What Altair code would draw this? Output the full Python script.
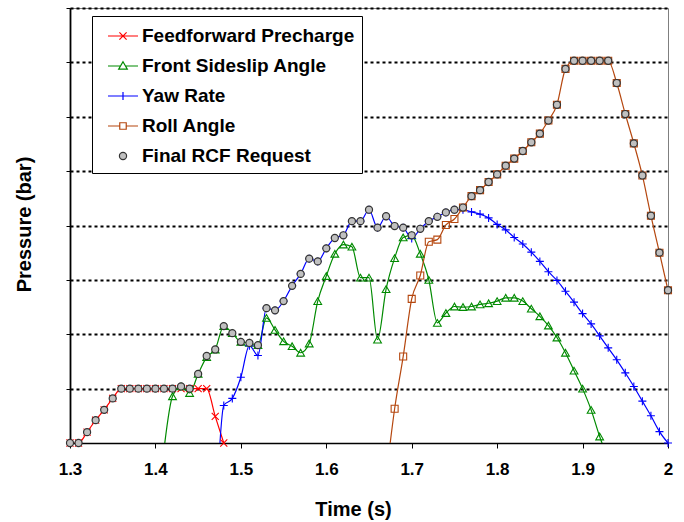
import altair as alt
import pandas as pd

SERIES = ["Feedforward Precharge", "Front Sideslip Angle", "Yaw Rate", "Roll Angle", "Final RCF Request"]
COLORS = ["#ff0000", "#008a00", "#0000ff", "#b5470f", "#333333"]
FILLS = ["transparent", "transparent", "transparent", "transparent", "#c0c0c0"]

X_TICKS = [1.3, 1.4, 1.5, 1.6, 1.7, 1.8, 1.9, 2.0]
Y_GRID = [1, 2, 3, 4, 5, 6, 7, 8]
STEP = 0.01

feedforward_start = 1.30
feedforward = [0.0, 0.0, 0.2, 0.42, 0.61, 0.82, 1.0, 1.0, 1.0, 1.0, 1.0, 1.0, 1.0, 1.0, 1.0,
               1.0, 1.0, 0.49, 0.0]

sideslip_start = 1.41
sideslip = [-0.12, 0.86, 1.04, 0.92, 1.27, 1.58, 1.72, 2.15, 2.02, 1.86, 1.84, 1.80, 2.30, 2.08,
            1.87, 1.78, 1.66, 1.83, 2.61, 3.07, 3.48, 3.65, 3.61, 3.04, 3.04, 1.90, 2.83, 3.40,
            3.78, 3.82, 3.48, 3.00, 2.21, 2.39, 2.51, 2.50, 2.51, 2.55, 2.57, 2.61, 2.67, 2.67,
            2.61, 2.47, 2.33, 2.16, 1.94, 1.66, 1.33, 1.00, 0.61, 0.12, -0.30]

yaw_start = 1.47
yaw = [-1.6, 0.69, 0.82, 1.21, 1.79, 1.61, 2.48, 2.44, 2.61, 2.89, 3.11, 3.39, 3.34, 3.58, 3.77,
       3.82, 4.08, 4.08, 4.29, 3.96, 4.17, 3.99, 3.96, 3.76, 3.94, 4.08, 4.16, 4.24, 4.29, 4.29,
       4.25, 4.21, 4.14, 4.02, 3.92, 3.78, 3.66, 3.51, 3.34, 3.15, 2.99, 2.79, 2.59, 2.38, 2.19,
       1.97, 1.75, 1.53, 1.29, 1.04, 0.77, 0.50, 0.21, 0.0]

roll_start = 1.67
roll = [-0.63, 0.63, 1.59, 2.65, 3.08, 3.70, 3.74, 4.01, 4.12, 4.33, 4.54, 4.65, 4.80, 4.94, 5.10,
        5.23, 5.37, 5.53, 5.69, 5.93, 6.22, 6.88, 7.03, 7.03, 7.03, 7.03, 7.03, 6.62, 6.05, 5.51,
        4.92, 4.18, 3.50, 2.81]

final_start = 1.30
final = [0.0, 0.0, 0.2, 0.42, 0.61, 0.82, 1.0, 1.0, 1.0, 1.0, 1.0, 1.0, 1.0, 1.04, 1.0, 1.27,
         1.6, 1.72, 2.15, 2.02, 1.86, 1.84, 1.80, 2.48, 2.44, 2.61, 2.89, 3.11, 3.39, 3.34, 3.58,
         3.77, 3.82, 4.08, 4.08, 4.29, 3.96, 4.17, 3.99, 3.96, 3.82, 3.94, 4.08, 4.16, 4.24, 4.29,
         4.33, 4.54, 4.65, 4.80, 4.94, 5.10, 5.23, 5.37, 5.53, 5.69, 5.93, 6.22, 6.88, 7.03, 7.03,
         7.03, 7.03, 7.03, 6.62, 6.05, 5.51, 4.92, 4.18, 3.50, 2.81]

rows = []
for name, start, vals in [(SERIES[0], feedforward_start, feedforward),
                          (SERIES[1], sideslip_start, sideslip),
                          (SERIES[2], yaw_start, yaw),
                          (SERIES[3], roll_start, roll),
                          (SERIES[4], final_start, final)]:
    for i, v in enumerate(vals):
        rows.append({"t": round(start + i * STEP, 2), "v": v, "series": name})
df = pd.DataFrame(rows)

# data-point marker shapes
MARK_SHAPES = ["M-1,-1L1,1M-1,1L1,-1", "triangle-up", "M-1,0H1M0,-1V1", "square", "circle"]
MARK_SIZES = [50, 60, 64, 49, 50]
# legend symbols: line through marker
LEG_PATHS = [
    "M-1.25,0H1.25M-0.3,-0.3L0.3,0.3M-0.3,0.3L0.3,-0.3",
    "M-1.25,0H-0.22M0.22,0H1.25M0,-0.36L0.36,0.26H-0.36Z",
    "M-1.25,0H1.25M0,-0.33V0.33",
    "M-1.25,0H-0.27M0.27,0H1.25M-0.27,-0.27H0.27V0.27H-0.27Z",
    "M0.3,0A0.3,0.3 0 1,1 -0.3,0A0.3,0.3 0 1,1 0.3,0Z",
]

FONT = "Liberation Sans"

x_enc = alt.X("t:Q", scale=alt.Scale(domain=[1.3, 2.0], nice=False, zero=False),
              axis=alt.Axis(values=X_TICKS, format=".1~f", title="Time (s)", grid=False,
                            domainColor="black", domainWidth=1.5, tickColor="black", tickSize=5,
                            tickWidth=1, labelFont=FONT, labelFontSize=17, labelFontWeight="bold",
                            labelColor="black", labelPadding=13, labelFlush=False,
                            titleFont=FONT, titleFontSize=20, titleFontWeight="bold",
                            titleColor="black", titleX=283, titleY=66, titleBaseline="middle",
                            titleAlign="center"))
y_enc = alt.Y("v:Q", scale=alt.Scale(domain=[0, 8], nice=False),
              axis=alt.Axis(values=Y_GRID, labels=False, title="Pressure (bar)", grid=True,
                            gridColor="black", gridDash=[3, 3], gridWidth=2, gridOpacity=1,
                            domainColor="black", domainWidth=1.8, tickColor="black", tickSize=4,
                            tickWidth=1, titleFont=FONT, titleFontSize=20, titleFontWeight="bold",
                            titleColor="black", titleX=-46, titleY=216, titleBaseline="middle",
                            titleAlign="center"))

base = alt.Chart(df)

lines = base.transform_filter(
    alt.datum.series != SERIES[4]
).mark_line(strokeWidth=1.2, interpolate="monotone", clip=True).encode(
    x=x_enc, y=y_enc,
    color=alt.Color("series:N", scale=alt.Scale(domain=SERIES[:4], range=COLORS[:4]), legend=None),
    detail="series:N",
)

layers = [lines]
for i, name in enumerate(SERIES):
    sel = base.transform_filter((alt.datum.series == name) & (alt.datum.v >= 0))
    if i == 4:
        layers.append(sel.mark_point(
            shape=MARK_SHAPES[i], size=MARK_SIZES[i], filled=True, fill=FILLS[i],
            stroke=COLORS[i], strokeWidth=1.2, opacity=1,
        ).encode(x="t:Q", y="v:Q"))
    else:
        layers.append(sel.mark_point(
            shape=MARK_SHAPES[i], size=MARK_SIZES[i], filled=False,
            stroke=COLORS[i], strokeWidth=1.1, opacity=1,
        ).encode(x="t:Q", y="v:Q"))

leg = alt.Legend(title=None, orient="none", legendX=22, legendY=8, symbolSize=576,
                 symbolStrokeWidth=1.2, symbolOffset=11, labelOffset=6, labelFont=FONT,
                 labelFontSize=19, labelFontWeight="bold", labelColor="black", padding=7,
                 rowPadding=7, strokeColor="black", fillColor="white", labelLimit=400)

legend_layer = base.transform_filter(alt.datum.v > 100).mark_point(
    filled=True, strokeWidth=1.2, opacity=1
).encode(
    x="t:Q", y="v:Q",
    shape=alt.Shape("series:N", scale=alt.Scale(domain=SERIES, range=LEG_PATHS), legend=leg),
    stroke=alt.Stroke("series:N", scale=alt.Scale(domain=SERIES, range=COLORS), legend=leg),
    fill=alt.Fill("series:N", scale=alt.Scale(domain=SERIES, range=FILLS), legend=leg),
)
layers.append(legend_layer)

chart = alt.layer(*layers).properties(
    width=598, height=435,
    autosize=alt.AutoSizeParams(type="none"),
    padding={"left": 70, "top": 8, "right": 16, "bottom": 79},
    background="white",
).configure_view(stroke="#7f7f7f", strokeWidth=1)

chart.save("out.html", embed_options={"renderer": "svg", "actions": False})
